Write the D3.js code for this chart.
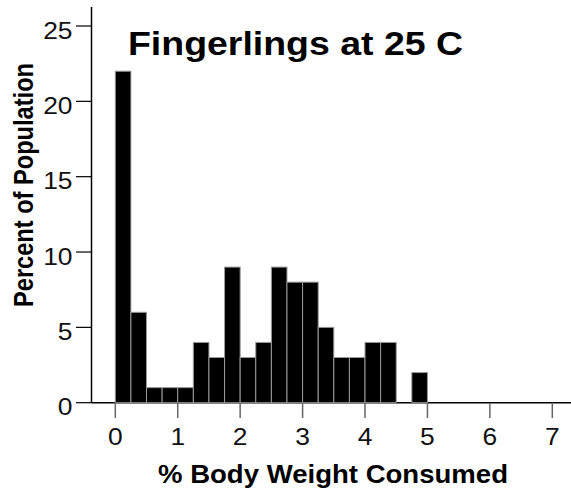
<!DOCTYPE html>
<html>
<head>
<meta charset="utf-8">
<script src="https://cdn.jsdelivr.net/npm/d3@7"></script>
<style>
html,body{margin:0;padding:0;background:#fff;}
svg{display:block;font-family:"Liberation Sans",Arial,sans-serif;}
</style>
</head>
<body>
<svg id="chart" width="571" height="495"></svg>
<script>
// Data
const binStarts = [0, 0.25, 0.5, 0.75, 1, 1.25, 1.5, 1.75, 2, 2.25, 2.5, 2.75, 3, 3.25, 3.5, 3.75, 4, 4.25, 4.5, 4.75];
const binWidth = 0.25;
const percents = [22, 6, 1, 1, 1, 4, 3, 9, 3, 4, 9, 8, 8, 5, 3, 3, 4, 4, 0, 2];
const xTicks = [0, 1, 2, 3, 4, 5, 6, 7];
const yTicks = [0, 5, 10, 15, 20, 25];
const titleText = "Fingerlings at 25 C";
const xTitle = "% Body Weight Consumed";
const yTitle = "Percent of Population";

const svg = d3.select("#chart");
const W = 571;
const x = d3.scaleLinear().domain([0, 7]).range([115.3, 552.3]);
const y = d3.scaleLinear().domain([0, 25]).range([402.7, 26]);
const axisX = 91.5;
const baseY = y(0);

// baseline
svg.append("line")
  .attr("x1", axisX).attr("x2", W)
  .attr("y1", baseY).attr("y2", baseY)
  .attr("stroke", "#000").attr("stroke-width", 1.5);

// bars
svg.append("g").selectAll("rect")
  .data(binStarts.map((s, i) => ({s, v: percents[i]})).filter(d => d.v > 0))
  .join("rect")
  .attr("x", d => x(d.s))
  .attr("width", d => x(d.s + binWidth) - x(d.s))
  .attr("y", d => y(d.v))
  .attr("height", d => baseY - y(d.v))
  .attr("fill", "#000")
  .attr("stroke", "#9a9a9a")
  .attr("stroke-width", 1);

// y axis
const yAxis = svg.append("g");
yAxis.append("line")
  .attr("x1", axisX).attr("x2", axisX)
  .attr("y1", 7).attr("y2", baseY)
  .attr("stroke", "#000").attr("stroke-width", 1.5);
const yt = yAxis.selectAll("g.tick").data(yTicks).join("g")
  .attr("class", "tick")
  .attr("transform", d => `translate(0,${y(d)})`);
yt.append("line")
  .attr("x1", 76).attr("x2", axisX)
  .attr("stroke", "#000").attr("stroke-width", 1.2);
yt.append("text")
  .attr("text-anchor", "end")
  .attr("transform", "translate(72.5,0) scale(1.1,1)")
  .attr("dy", "0.53em")
  .attr("font-size", 24)
  .attr("fill", "#111")
  .text(d => d);

// x axis ticks
const xt = svg.append("g").selectAll("g.tick").data(xTicks).join("g")
  .attr("class", "tick")
  .attr("transform", d => `translate(${x(d)},0)`);
xt.append("line")
  .attr("y1", baseY).attr("y2", 418)
  .attr("stroke", "#666").attr("stroke-width", 1.5);
xt.append("text")
  .attr("text-anchor", "middle")
  .attr("transform", "translate(0,445) scale(1.1,1)")
  .attr("font-size", 24)
  .attr("fill", "#111")
  .text(d => d);

// titles
svg.append("text")
  .attr("x", 128).attr("y", 55)
  .attr("font-size", 33.5).attr("font-weight", "bold")
  .attr("textLength", 335).attr("lengthAdjust", "spacingAndGlyphs")
  .attr("fill", "#000")
  .text(titleText);

svg.append("text")
  .attr("x", 158).attr("y", 483)
  .attr("font-size", 25).attr("font-weight", "bold")
  .attr("textLength", 350).attr("lengthAdjust", "spacingAndGlyphs")
  .attr("fill", "#000")
  .text(xTitle);

svg.append("text")
  .attr("transform", "translate(33,185) scale(1.12,1) rotate(-90)")
  .attr("text-anchor", "middle")
  .attr("font-size", 25).attr("font-weight", "bold")
  .attr("textLength", 244).attr("lengthAdjust", "spacingAndGlyphs")
  .attr("fill", "#000")
  .text(yTitle);
</script>
</body>
</html>
